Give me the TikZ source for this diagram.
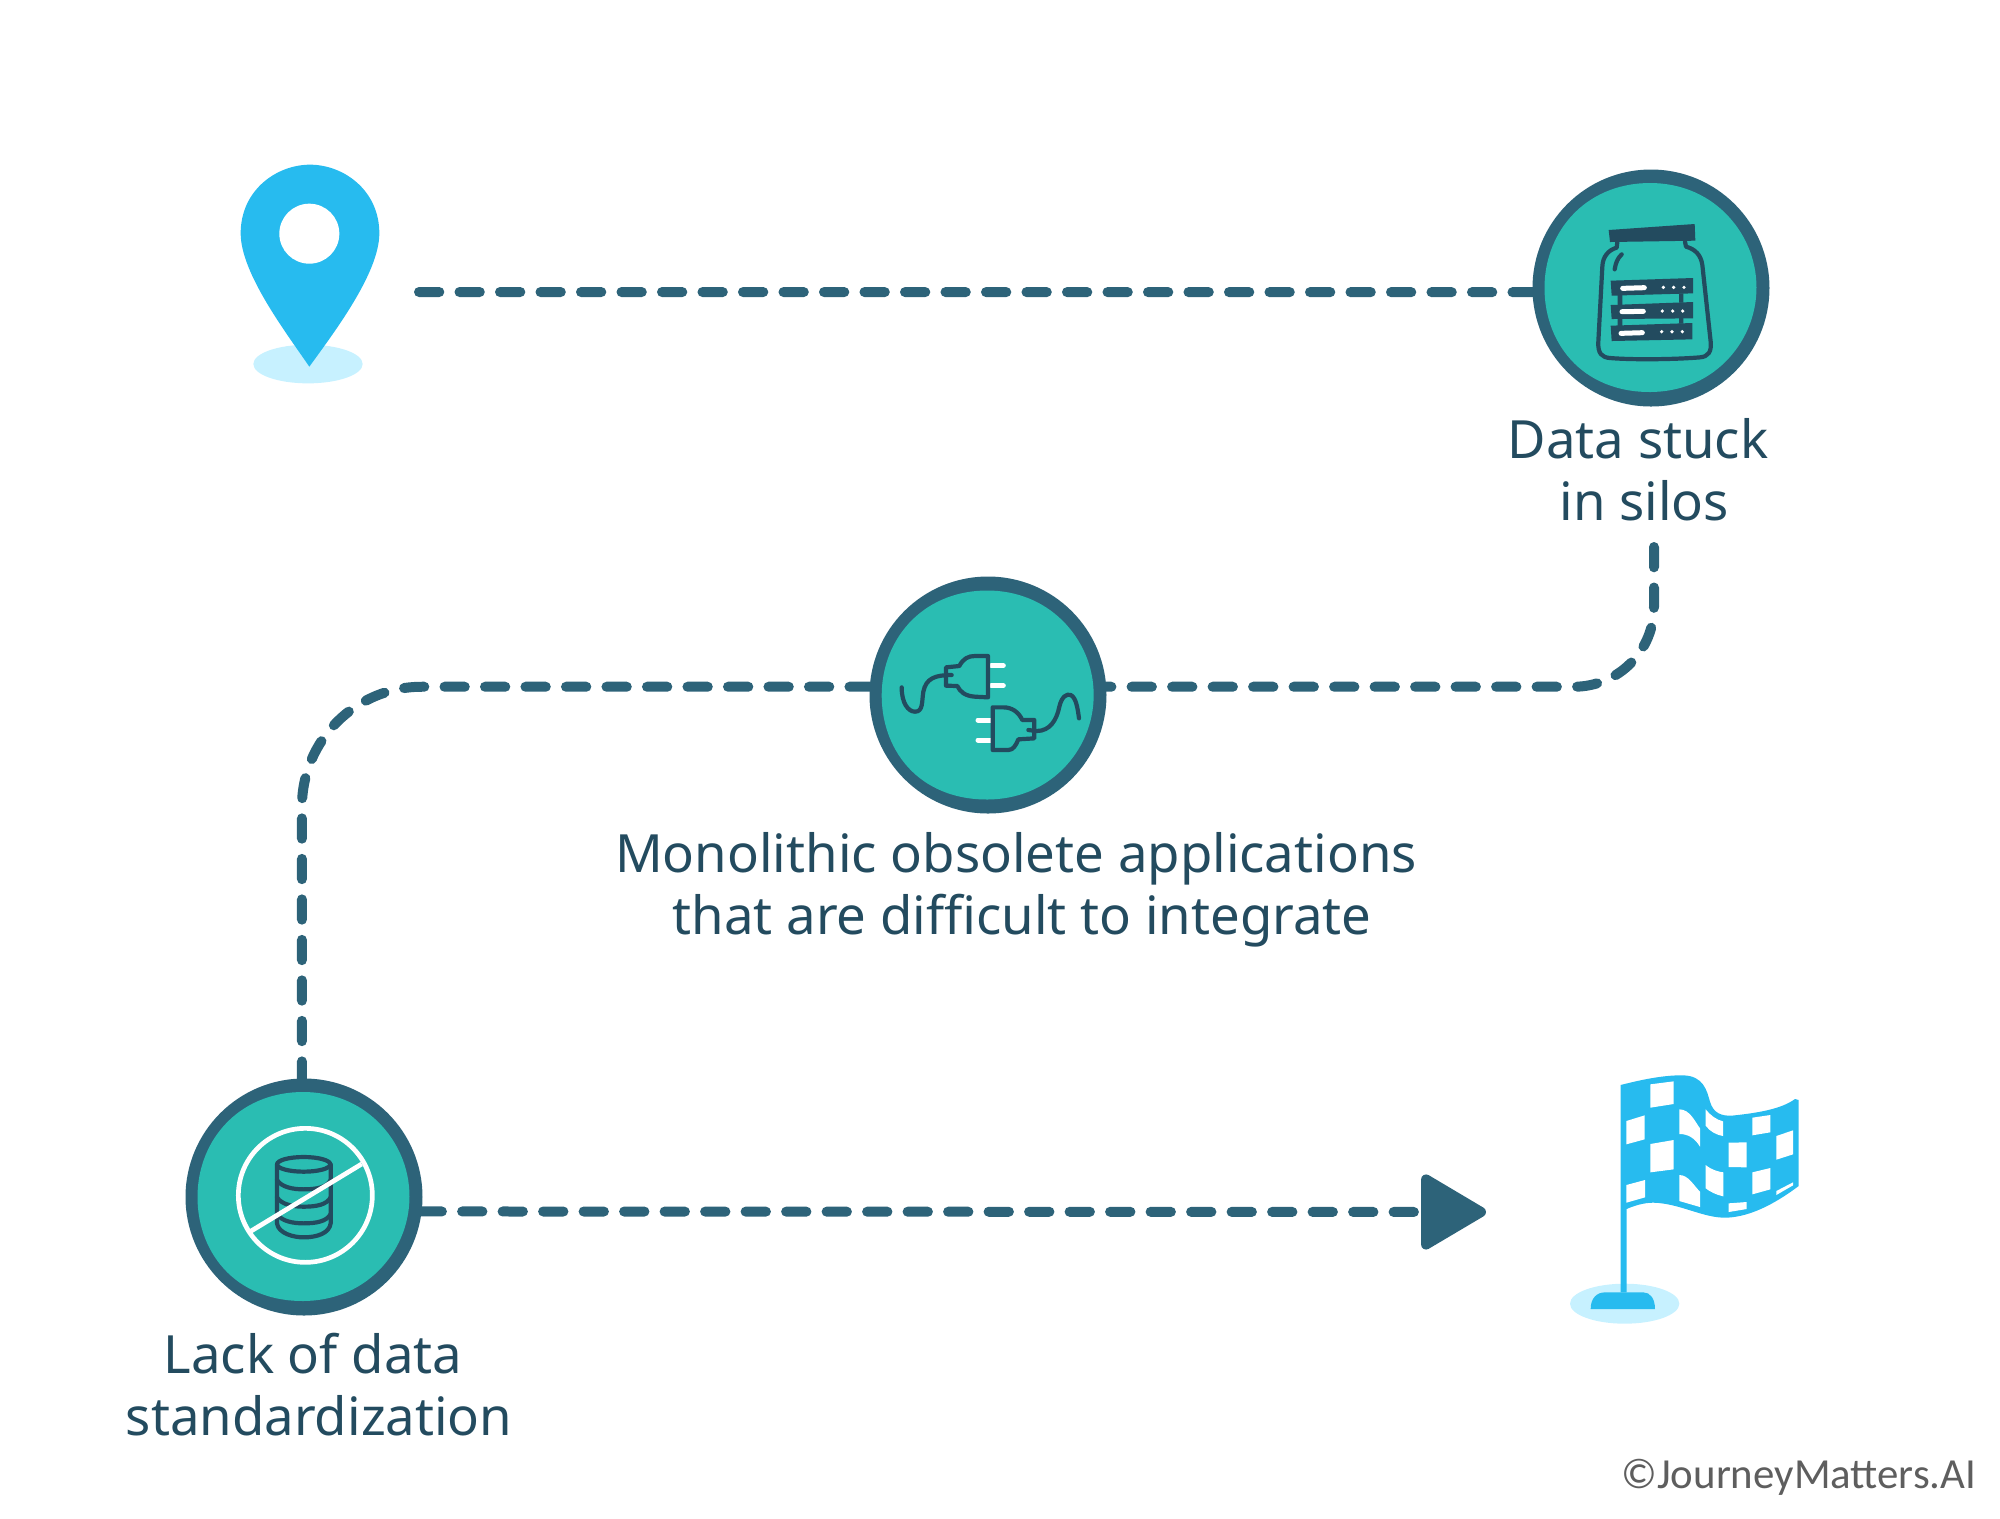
\documentclass[tikz,border=0pt]{standalone}
\usepackage{fontspec}
\setmainfont{Noto Sans}
\newfontfamily\markfont{Carlito}
\usetikzlibrary{arrows.meta}
\definecolor{ringcol}{HTML}{2D6379}
\definecolor{tealcol}{HTML}{2ABDB2}
\definecolor{darkcol}{HTML}{234B5F}
\definecolor{bluecol}{HTML}{27BBEF}
\definecolor{palecol}{HTML}{C7F1FF}
\definecolor{markcol}{HTML}{5E5E5E}
% inner teal disc, a little uneven
\newcommand{\tealblob}[1]{\fill[tealcol,shift={(#1)}] plot[smooth cycle,tension=0.68] coordinates {(0:106) (45:105.5) (90:104.5) (135:107.5) (180:106) (225:106.5) (270:104.5) (315:105.5)};}
\begin{document}
\begin{tikzpicture}[
        x=0.1mm, y=-0.1mm,
        stopnode/.style={circle, fill=ringcol, minimum size=23.7mm, inner sep=0pt, outer sep=0pt},
        dashline/.style={draw=ringcol, line width=1mm, line cap=round, dash pattern=on 2.03mm off 2.02mm},
        zoomed/.style={x=0.033333mm, y=-0.033333mm},
        iconline/.style={draw=darkcol, line width=0.42mm, line cap=round, line join=round},
        whiteline/.style={draw=white, line width=0.5mm, line cap=round},
        stoplabel/.style={text=darkcol, align=center, inner sep=0pt, font=\fontsize{15pt}{17.64pt}\selectfont}
    ]
    \useasboundingbox (0,0) rectangle (2000,1519);

    % the three stops
    \node[stopnode] (jar) at (1651,288) {};
    \node[stopnode] (plug) at (988,695) {};
    \node[stopnode] (db) at (304,1197) {};
    \tealblob{1650.5,287.5}
    \tealblob{987.7,695}
    \tealblob{303.5,1196.5}

    % free ends of the route
    \coordinate (pinend) at (419,292);
    \coordinate (silosend) at (1654,547);
    \coordinate (goal) at (1486,1212);

    % route
    \draw[dashline] (pinend) -- (jar.182);
    \draw[dashline, rounded corners=8mm] (silosend) |- (plug.4);
    \draw[dashline, rounded corners=12mm] (plug.176) -| (db.91);
    \draw[dashline, -{Triangle[round,length=7mm,width=8mm]}] (db.-7) -- (goal);

    % start pin
    \begin{scope}[shift={(220,150)}, zoomed]
        \fill[palecol] (264,642) ellipse [x radius=164, y radius=58];
        \fill[bluecol] (268,650) .. controls (200,550) and (62,370) .. (62,250)
            .. controls (62,120) and (170,44) .. (270,44)
            .. controls (370,44) and (478,120) .. (478,250)
            .. controls (478,370) and (340,550) .. (268,650) -- cycle;
        \fill[white] (268,251) circle [radius=90];
    \end{scope}

    % jar of servers
    \begin{scope}[shift={(1500,150)}, zoomed]
        \fill[darkcol] (326,240) -- (584,222) -- (586,272) -- (330,276) -- cycle;
        \draw[iconline] (352,276) -- (350,293) .. controls (325,300) and (308,320) .. (307,350)
            -- (295,575) .. controls (293,610) and (305,622) .. (330,624)
            .. controls (400,630) and (530,628) .. (600,622)
            .. controls (625,620) and (635,605) .. (632,575)
            -- (607,345) .. controls (603,315) and (585,297) .. (558,290) -- (555,275);
        \draw[iconline] (344,358) .. controls (347,340) and (352,325) .. (365,313);
        \fill[darkcol] (332,392) -- (579,384) -- (579,430) -- (335,437) -- cycle;
        \fill[darkcol] (332,465) -- (579,456) -- (579,505) -- (335,507) -- cycle;
        \fill[darkcol] (332,527) -- (577,519) -- (577,568) -- (335,573) -- cycle;
        \fill[darkcol] (353,435) rectangle (367,467) (537,430) rectangle (550,458);
        \fill[darkcol] (353,505) rectangle (367,529) (537,503) rectangle (550,521);
        \draw[whiteline] (368,415) -- (433,413) (366,485) -- (430,484) (363,550) -- (427,548);
        \foreach \px/\py in {490/412, 521/412, 552/412, 487/483, 518/483, 548/483, 485/545, 516/545, 547/545}
            \fill[white] (\px,\py) circle [radius=5.5];
    \end{scope}

    % unplugged connectors
    \begin{scope}[shift={(850,560)}, zoomed]
        \draw[whiteline] (424,317) -- (460,317) (424,377) -- (460,377);
        \draw[whiteline] (384,480) -- (425,480) (384,540) -- (425,540);
        \draw[iconline] (414,288) -- (414,412) -- (375,410) .. controls (345,408) and (330,395) .. (322,378)
            -- (288,377) -- (288,322) -- (328,318) .. controls (340,295) and (355,288) .. (375,288) -- cycle;
        \draw[iconline] (155,382) .. controls (155,430) and (175,455) .. (195,455)
            .. controls (220,455) and (215,425) .. (220,395)
            .. controls (228,355) and (255,345) .. (305,345);
        \draw[iconline] (428,442) -- (428,570) -- (475,570) .. controls (490,570) and (498,555) .. (505,538)
            -- (553,535) -- (553,480) -- (517,480) .. controls (505,455) and (485,442) .. (460,442) -- cycle;
        \draw[iconline] (535,510) -- (560,513) .. controls (600,513) and (620,480) .. (628,440)
            .. controls (635,410) and (650,400) .. (662,405)
            .. controls (678,412) and (683,445) .. (687,475);
    \end{scope}

    % crossed out database
    \begin{scope}[shift={(170,1060)}, zoomed]
        \draw[iconline] (401,313) ellipse [x radius=80, y radius=22];
        \draw[iconline] (321,313) -- (321,490) .. controls (325,520) and (370,532) .. (401,532)
            .. controls (440,532) and (478,520) .. (482,490) -- (482,313);
        \foreach \py in {360, 412, 462}
            \draw[iconline] (321,\py) .. controls (335,\py+22) and (370,\py+28) .. (401,\py+28)
                .. controls (440,\py+28) and (470,\py+22) .. (482,\py);
        \draw[white, line width=0.47mm] (406,406) circle [radius=201];
        \draw[white, line width=0.47mm] (235,518) -- (575,312);
    \end{scope}

    % finish flag
    \begin{scope}[shift={(1540,1060)}, zoomed]
        \fill[palecol] (254,731) ellipse [x radius=164, y radius=60];
        \fill[bluecol] (242,75) .. controls (320,55) and (380,45) .. (430,46)
            .. controls (490,48) and (500,90) .. (510,125)
            .. controls (520,160) and (545,168) .. (575,167)
            .. controls (640,160) and (720,150) .. (765,117) -- (776,120) -- (776,378)
            .. controls (720,420) and (640,470) .. (560,473)
            .. controls (490,475) and (420,430) .. (340,428)
            .. controls (310,428) and (280,438) .. (260,447)
            -- (260,697) -- (242,697) -- cycle;
        \fill[bluecol] (152,747) .. controls (152,715) and (170,697) .. (195,697) -- (310,697)
            .. controls (330,697) and (345,715) .. (345,747) -- cycle;
        \fill[white] (331,73) -- (401,64) -- (401,132) -- (331,143) -- cycle;
        \fill[white] (259,183) -- (314,166) -- (314,238) -- (259,253) -- cycle;
        \fill[white] (418,148) .. controls (450,148) and (465,185) .. (480,205) -- (480,260)
            .. controls (465,235) and (445,222) .. (418,222) -- cycle;
        \fill[white] (497,148) .. controls (510,165) and (530,180) .. (549,184) -- (549,228)
            .. controls (530,225) and (510,215) .. (497,197) -- cycle;
        \fill[white] (637,173) -- (691,165) -- (691,217) -- (637,226) -- cycle;
        \fill[white] (709,228) -- (759,211) -- (759,283) -- (709,299) -- cycle;
        \fill[white] (331,252) -- (401,240) -- (401,328) -- (331,337) -- cycle;
        \fill[white] (566,248) -- (620,247) -- (620,322) -- (566,321) -- cycle;
        \fill[white] (497,315) .. controls (515,330) and (535,335) .. (550,337) -- (550,409)
            .. controls (530,405) and (510,395) .. (497,385) -- cycle;
        \fill[white] (637,337) -- (691,324) -- (691,388) -- (637,403) -- cycle;
        \fill[white] (259,375) -- (315,360) -- (315,412) -- (259,428) -- cycle;
        \fill[white] (418,345) .. controls (445,345) and (460,375) .. (480,395) -- (480,441) -- (418,423) -- cycle;
        \fill[white] (566,430) -- (620,426) -- (620,447) -- (566,456) -- cycle;
        \fill[white] (709,393) -- (759,367) -- (759,376) -- (709,405) -- cycle;
    \end{scope}

    % labels
    \node[stoplabel] (jarlabel) at (1638,470) {Data stuck\\\hspace*{3.5pt}in silos};
    \node[stoplabel] (pluglabel) at (1016,890) {Monolithic obsolete applications\\\hspace*{3.5pt}that are difficult to integrate};
    \node[stoplabel] (dblabel) at (313,1385) {Lack of data\\\hspace*{3.5pt}standardization};
    \node[text=markcol, inner sep=0pt, font=\markfont\fontsize{12.2pt}{15pt}\selectfont] (copyright) at (1799,1477) {©JourneyMatters.AI};
\end{tikzpicture}
\end{document}
